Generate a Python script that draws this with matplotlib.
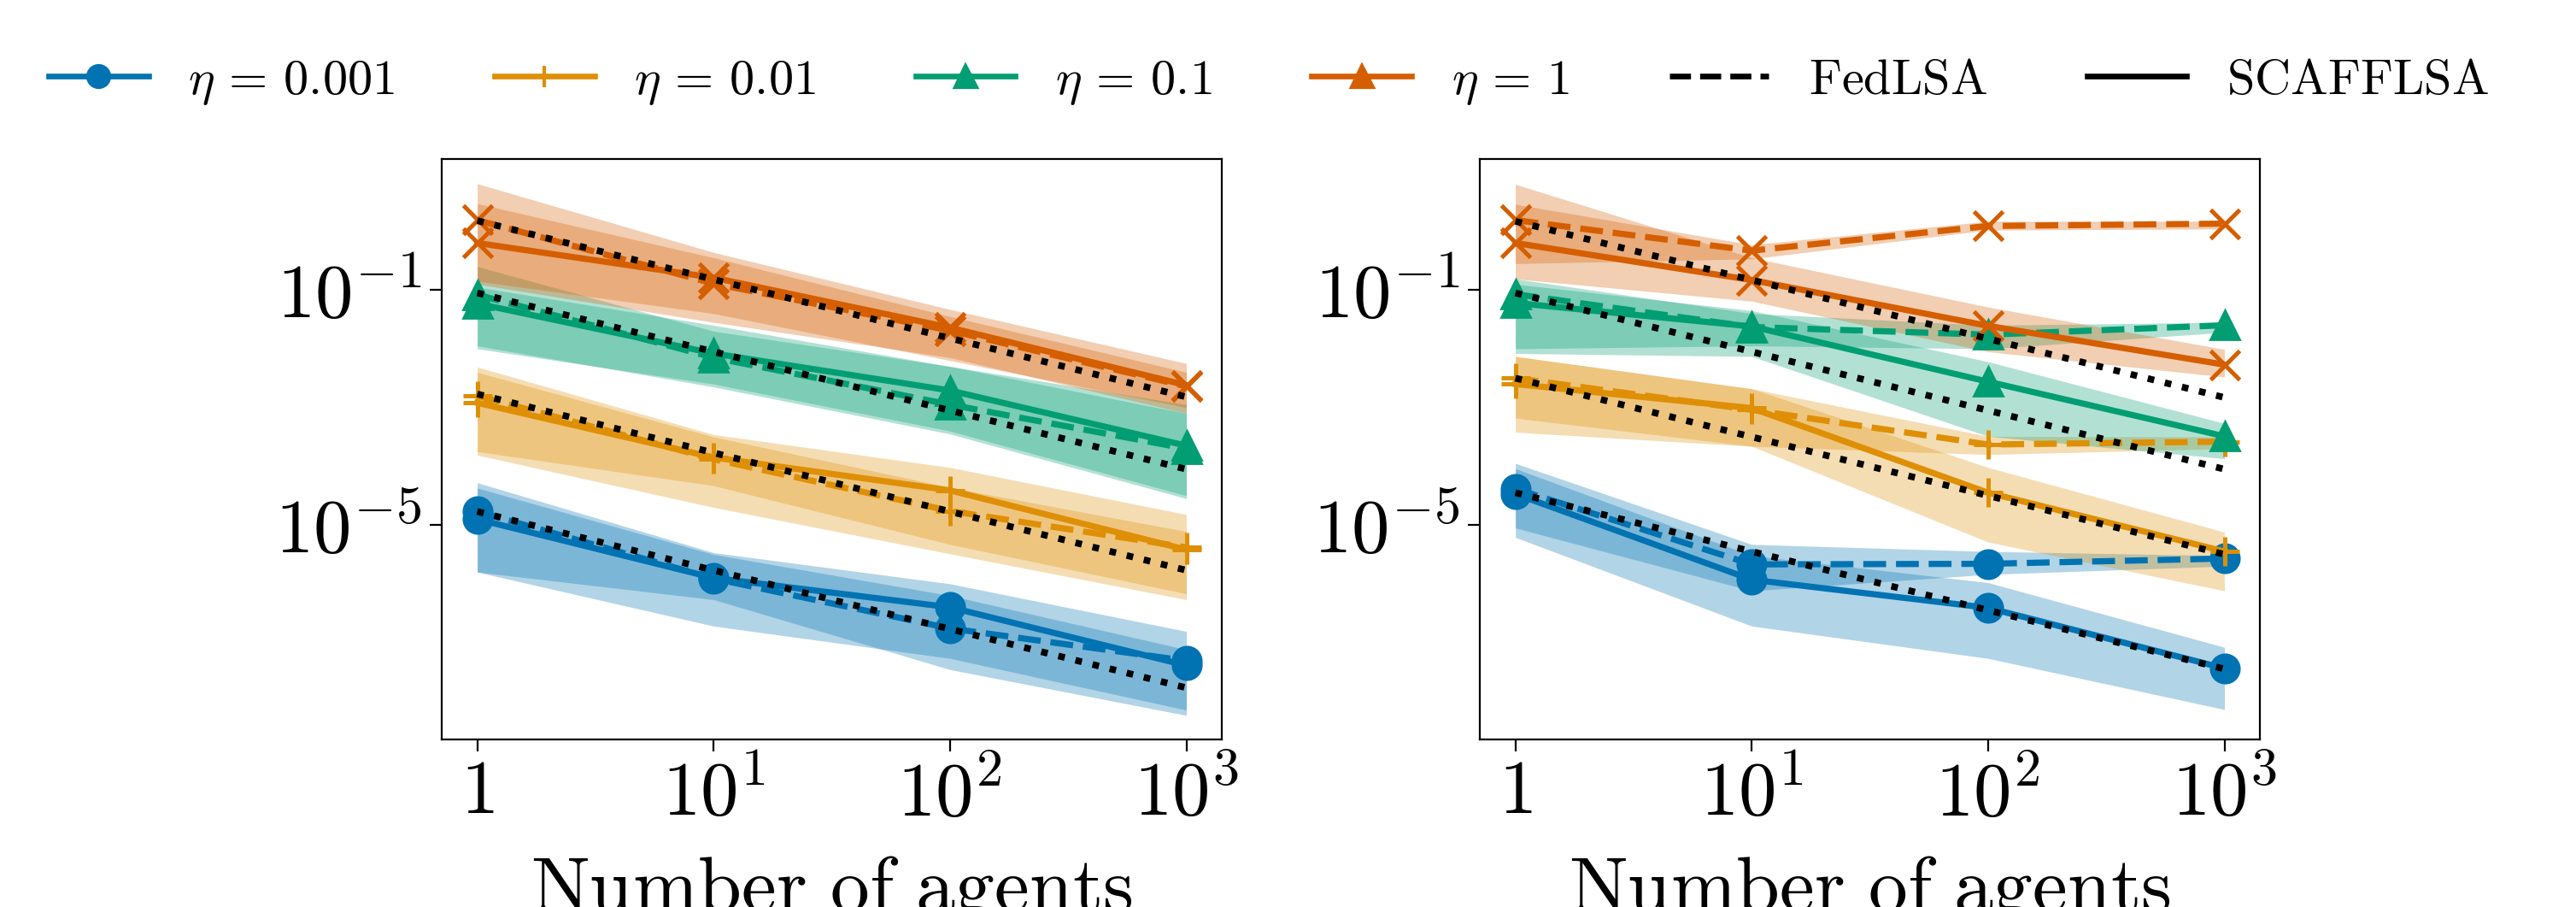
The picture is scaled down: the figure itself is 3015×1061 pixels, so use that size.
import matplotlib
matplotlib.use("Agg")
import matplotlib.pyplot as plt
from matplotlib.lines import Line2D
from matplotlib.ticker import NullLocator
import numpy as np

plt.rcParams['mathtext.fontset'] = 'cm'
plt.rcParams['font.family'] = 'serif'
plt.rcParams['font.serif'] = ['cmr10', 'DejaVu Serif']
plt.rcParams['axes.unicode_minus'] = False

n_agents = [1, 10, 100, 1000]
eta_labels = [r'$\eta \,=\, 0.001$', r'$\eta \,=\, 0.01$', r'$\eta \,=\, 0.1$', r'$\eta \,=\, 1$']
colors = ['#0173b2', '#de8f05', '#029e73', '#d55e00']
markers = ['o', '+', '^', 'x']
legend_markers = ['o', '+', '^', '^']

# values are log10 of the error
# left panel
fed_a = [[-4.77, -5.91, -6.76, -7.31],
         [-2.80, -3.88, -4.76, -5.38],
         [-1.08, -2.15, -2.95, -3.70],
         [0.19, -0.89, -1.69, -2.64]]
scaf_a = [[-4.90, -5.90, -6.40, -7.39],
          [-2.92, -3.85, -4.41, -5.42],
          [-1.23, -2.08, -2.71, -3.65],
          [-0.20, -0.79, -1.64, -2.62]]
theory_a = [[-4.77, -5.77, -6.77, -7.77],
            [-2.77, -3.77, -4.77, -5.77],
            [-1.05, -2.05, -3.05, -4.05],
            [0.18, -0.82, -1.82, -2.82]]
fed_a_lo = [[-5.80, -6.72, -7.27, -8.15], [-3.81, -4.70, -5.49, -6.27],
            [-1.95, -2.65, -3.45, -4.55], [-0.90, -1.55, -2.15, -3.10]]
fed_a_hi = [[-4.28, -5.47, -6.00, -6.81], [-2.31, -3.46, -4.02, -4.82],
            [-0.60, -1.70, -2.30, -2.95], [0.81, -0.36, -1.33, -2.25]]
scaf_a_lo = [[-5.80, -6.27, -7.46, -8.24], [-3.75, -4.33, -5.33, -6.17],
             [-2.00, -2.60, -3.40, -4.50], [-0.85, -1.40, -2.20, -3.00]]
scaf_a_hi = [[-4.37, -5.50, -6.20, -7.12], [-2.40, -3.50, -4.36, -5.11],
             [-0.95, -1.60, -2.30, -3.10], [0.47, -0.45, -1.45, -2.40]]

# right panel
fed_b = [[-4.38, -5.67, -5.66, -5.57],
         [-2.50, -3.04, -3.63, -3.58],
         [-1.07, -1.63, -1.76, -1.60],
         [0.19, -0.33, 0.09, 0.13]]
scaf_b = [[-4.47, -5.93, -6.41, -7.44],
          [-2.60, -3.01, -4.45, -5.45],
          [-1.22, -1.62, -2.56, -3.49],
          [-0.20, -0.83, -1.61, -2.27]]
theory_b = [[-4.45, -5.45, -6.45, -7.45],
            [-2.50, -3.50, -4.50, -5.50],
            [-1.05, -2.05, -3.05, -4.05],
            [0.17, -0.83, -1.83, -2.83]]
fed_b_lo = [[-5.05, -6.12, -5.84, -5.70], [-3.18, -3.66, -3.80, -3.70],
            [-2.00, -1.95, -2.00, -1.72], [-0.55, -0.47, 0.02, 0.04]]
fed_b_hi = [[-3.95, -5.33, -5.45, -5.52], [-2.13, -2.68, -3.49, -3.50],
            [-0.81, -1.40, -1.60, -1.55], [0.46, -0.23, 0.17, 0.17]]
scaf_b_lo = [[-5.21, -6.72, -7.27, -8.14], [-3.42, -3.66, -5.29, -6.12],
             [-2.08, -2.13, -3.49, -3.87], [-0.81, -1.19, -2.05, -2.48]]
scaf_b_hi = [[-4.04, -5.52, -5.98, -7.08], [-2.13, -2.68, -4.02, -5.12],
             [-0.90, -1.35, -2.22, -3.27], [0.80, -0.45, -1.29, -2.01]]

panels = [(fed_a, scaf_a, theory_a, fed_a_lo, fed_a_hi, scaf_a_lo, scaf_a_hi),
          (fed_b, scaf_b, theory_b, fed_b_lo, fed_b_hi, scaf_b_lo, scaf_b_hi)]

fig = plt.figure(figsize=(15.075, 5.305), dpi=200)
ax1 = fig.add_axes([0.1715, 0.1847, 0.3028, 0.6400])
ax2 = fig.add_axes([0.5745, 0.1847, 0.3028, 0.6400])

for ax, (fed, scaf, theo, flo, fhi, slo, shi) in zip([ax1, ax2], panels):
    for i in range(4):
        c = colors[i]
        ax.fill_between(n_agents, 10 ** np.array(flo[i]), 10 ** np.array(fhi[i]),
                        color=c, alpha=0.3, lw=0, zorder=1)
        ax.fill_between(n_agents, 10 ** np.array(slo[i]), 10 ** np.array(shi[i]),
                        color=c, alpha=0.3, lw=0, zorder=1)
    for i in range(4):
        c = colors[i]
        mew = 1.8 if markers[i] in ('+', 'x') else 1
        ax.plot(n_agents, 10 ** np.array(fed[i]), '--', color=c, lw=2.6,
                marker=markers[i], ms=12, mew=mew, zorder=3)
        ax.plot(n_agents, 10 ** np.array(scaf[i]), '-', color=c, lw=2.6,
                marker=markers[i], ms=12, mew=mew, zorder=3)
        ax.plot(n_agents, 10 ** np.array(theo[i]), ':', color='black', lw=2.8, zorder=4)

    ax.set_xscale('log')
    ax.set_yscale('log')
    ax.set_ylim(10 ** -8.65, 10 ** 1.23)
    ax.set_xticks(n_agents)
    ax.set_xticklabels([r'$1$', r'$10^{1}$', r'$10^{2}$', r'$10^{3}$'])
    ax.set_yticks([1e-5, 1e-1])
    ax.set_yticklabels([r'$10^{-5}$', r'$10^{-1}$'])
    ax.xaxis.set_minor_locator(NullLocator())
    ax.yaxis.set_minor_locator(NullLocator())
    ax.tick_params(labelsize=32, length=5, width=0.8)
    ax.set_xlabel(r'$\mathrm{Number\ of\ agents}$', fontsize=33, labelpad=10)

handles = [Line2D([], [], color=colors[i], lw=2.4, marker=legend_markers[i], ms=9, mew=1.5)
           for i in range(4)]
handles.append(Line2D([], [], color='black', ls='--', lw=2.4))
handles.append(Line2D([], [], color='black', ls='-', lw=2.4))
labels = eta_labels + [r'$\mathrm{FedLSA}$', r'$\mathrm{SCAFFLSA}$']
fig.legend(handles, labels, loc='center', bbox_to_anchor=(0.4925, 0.909), ncol=6,
           frameon=False, fontsize=21, columnspacing=2.0, handletextpad=0.8)

fig.savefig('out.png', dpi=200)
